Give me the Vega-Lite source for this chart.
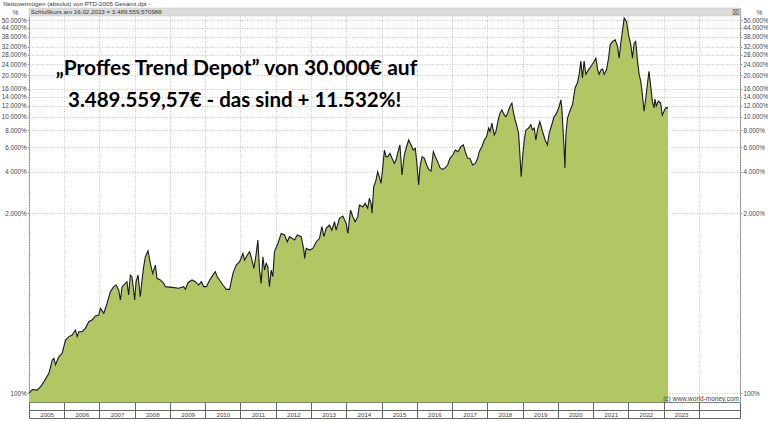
{
  "$schema": "https://vega.github.io/schema/vega-lite/v6.json",
  "width": 711,
  "height": 394,
  "autosize": {"type": "none"},
  "padding": {"left": 29, "top": 8, "right": 28, "bottom": 19},
  "background": "white",
  "config": {
    "view": {"stroke": "#808080", "strokeWidth": 1},
    "font": "Liberation Sans",
    "axis": {
      "labelFont": "Liberation Sans",
      "titleFont": "Liberation Sans",
      "labelFontSize": 6.3,
      "labelColor": "#444444",
      "labelFlush": false,
      "labelOverlap": false,
      "labelBound": false
    }
  },
  "resolve": {"axis": {"x": "independent", "y": "independent"}},
  "layer": [
    {
      "data": {"values": [{}]},
      "mark": {"type": "rect", "color": "#dcdcdc", "stroke": "#c4c4c4", "strokeWidth": 0.5},
      "encoding": {
        "x": {"datum": {"year": 2005, "month": 1, "date": 1, "utc": true}, "type": "temporal",
          "scale": {"type": "utc", "domain": [{"year": 2005, "month": 1, "date": 1, "utc": true}, {"year": 2025, "month": 3, "date": 3, "utc": true}]},
          "axis": {"orient": "bottom", "offset": 16, "ticks": false, "labels": false, "grid": false, "domain": true, "domainColor": "#666666", "title": null}},
        "x2": {"datum": {"year": 2025, "month": 3, "date": 3, "utc": true}},
        "y": {"datum": 61254, "type": "quantitative", "scale": {"type": "log", "domain": [86.1, 61254], "nice": false}, "axis": null},
        "y2": {"datum": 53600}
      }
    },
    {
      "data": {"values": [
        {"date": "2005-01-01", "v": 100}, {"date": "2005-02-04", "v": 106}, {"date": "2005-03-26", "v": 105}, {"date": "2005-05-01", "v": 111},
        {"date": "2005-06-05", "v": 121}, {"date": "2005-07-26", "v": 139}, {"date": "2005-08-30", "v": 173}, {"date": "2005-09-16", "v": 178},
        {"date": "2005-10-03", "v": 160}, {"date": "2005-11-06", "v": 183}, {"date": "2005-12-10", "v": 194}, {"date": "2006-01-15", "v": 242},
        {"date": "2006-02-18", "v": 256}, {"date": "2006-03-24", "v": 263}, {"date": "2006-04-27", "v": 286}, {"date": "2006-05-15", "v": 256},
        {"date": "2006-06-01", "v": 278}, {"date": "2006-07-05", "v": 278}, {"date": "2006-08-08", "v": 294}, {"date": "2006-09-12", "v": 328},
        {"date": "2006-10-16", "v": 338}, {"date": "2006-11-20", "v": 361}, {"date": "2006-12-24", "v": 367}, {"date": "2007-01-11", "v": 410},
        {"date": "2007-02-15", "v": 378}, {"date": "2007-03-20", "v": 446}, {"date": "2007-04-24", "v": 541}, {"date": "2007-05-28", "v": 589},
        {"date": "2007-06-22", "v": 605}, {"date": "2007-07-19", "v": 557}, {"date": "2007-08-06", "v": 471}, {"date": "2007-08-23", "v": 589},
        {"date": "2007-09-26", "v": 622}, {"date": "2007-10-13", "v": 640}, {"date": "2007-10-30", "v": 512}, {"date": "2007-11-17", "v": 714},
        {"date": "2007-12-04", "v": 695}, {"date": "2008-01-01", "v": 471}, {"date": "2008-01-15", "v": 640}, {"date": "2008-02-05", "v": 714},
        {"date": "2008-02-28", "v": 498}, {"date": "2008-03-17", "v": 658}, {"date": "2008-04-03", "v": 821}, {"date": "2008-04-20", "v": 968},
        {"date": "2008-05-18", "v": 1070}, {"date": "2008-06-11", "v": 868}, {"date": "2008-07-05", "v": 735}, {"date": "2008-08-02", "v": 844},
        {"date": "2008-08-19", "v": 676}, {"date": "2008-09-23", "v": 658}, {"date": "2008-10-27", "v": 622}, {"date": "2008-11-13", "v": 589},
        {"date": "2009-01-22", "v": 582}, {"date": "2009-04-01", "v": 573}, {"date": "2009-05-23", "v": 589}, {"date": "2009-06-09", "v": 563},
        {"date": "2009-07-06", "v": 629}, {"date": "2009-08-17", "v": 658}, {"date": "2009-09-20", "v": 640}, {"date": "2009-10-25", "v": 605},
        {"date": "2009-11-22", "v": 640}, {"date": "2009-12-16", "v": 589}, {"date": "2010-01-13", "v": 589}, {"date": "2010-02-16", "v": 658},
        {"date": "2010-03-21", "v": 714}, {"date": "2010-04-15", "v": 756}, {"date": "2010-05-05", "v": 695}, {"date": "2010-05-29", "v": 658},
        {"date": "2010-07-03", "v": 605}, {"date": "2010-08-07", "v": 563}, {"date": "2010-09-10", "v": 563}, {"date": "2010-09-27", "v": 640},
        {"date": "2010-10-15", "v": 735}, {"date": "2010-11-18", "v": 844}, {"date": "2010-12-23", "v": 892}, {"date": "2011-01-26", "v": 1025},
        {"date": "2011-02-12", "v": 915}, {"date": "2011-03-12", "v": 997}, {"date": "2011-04-05", "v": 1053}, {"date": "2011-04-22", "v": 968},
        {"date": "2011-05-20", "v": 798}, {"date": "2011-06-13", "v": 1025}, {"date": "2011-06-30", "v": 1282}, {"date": "2011-07-17", "v": 777},
        {"date": "2011-08-03", "v": 622}, {"date": "2011-08-21", "v": 968}, {"date": "2011-09-07", "v": 777}, {"date": "2011-09-24", "v": 868},
        {"date": "2011-10-11", "v": 821}, {"date": "2011-10-28", "v": 589}, {"date": "2011-11-15", "v": 777}, {"date": "2011-12-02", "v": 695},
        {"date": "2011-12-19", "v": 1053}, {"date": "2012-01-23", "v": 1210}, {"date": "2012-02-27", "v": 1430}, {"date": "2012-04-02", "v": 1393},
        {"date": "2012-04-29", "v": 1245}, {"date": "2012-05-23", "v": 1355}, {"date": "2012-06-17", "v": 1318}, {"date": "2012-07-14", "v": 1282},
        {"date": "2012-08-11", "v": 1393}, {"date": "2012-09-21", "v": 1355}, {"date": "2012-10-19", "v": 1083}, {"date": "2012-10-26", "v": 941},
        {"date": "2012-11-12", "v": 1114}, {"date": "2012-12-17", "v": 1083}, {"date": "2013-01-20", "v": 1114}, {"date": "2013-02-24", "v": 1245},
        {"date": "2013-03-30", "v": 1318}, {"date": "2013-04-23", "v": 1599}, {"date": "2013-05-14", "v": 1355}, {"date": "2013-06-07", "v": 1555},
        {"date": "2013-07-11", "v": 1644}, {"date": "2013-08-04", "v": 1510}, {"date": "2013-09-01", "v": 1738}, {"date": "2013-09-18", "v": 1510},
        {"date": "2013-10-22", "v": 1838}, {"date": "2013-11-26", "v": 1910}, {"date": "2013-12-31", "v": 1690}, {"date": "2014-01-17", "v": 1430},
        {"date": "2014-02-14", "v": 2110}, {"date": "2014-03-10", "v": 1890}, {"date": "2014-04-03", "v": 1738}, {"date": "2014-04-30", "v": 1890},
        {"date": "2014-05-17", "v": 2290}, {"date": "2014-06-21", "v": 2230}, {"date": "2014-07-15", "v": 2360}, {"date": "2014-08-11", "v": 2180},
        {"date": "2014-08-28", "v": 2570}, {"date": "2014-09-15", "v": 2360}, {"date": "2014-09-25", "v": 2000}, {"date": "2014-10-12", "v": 3110},
        {"date": "2014-11-05", "v": 3480}, {"date": "2014-11-22", "v": 4000}, {"date": "2014-12-09", "v": 3680}, {"date": "2014-12-27", "v": 3290},
        {"date": "2015-01-13", "v": 4230}, {"date": "2015-01-31", "v": 5740}, {"date": "2015-02-17", "v": 5140}, {"date": "2015-03-06", "v": 5140},
        {"date": "2015-03-30", "v": 5430}, {"date": "2015-04-20", "v": 5000}, {"date": "2015-05-14", "v": 4590}, {"date": "2015-05-31", "v": 4860},
        {"date": "2015-06-17", "v": 5430}, {"date": "2015-07-11", "v": 6260}, {"date": "2015-08-01", "v": 3790}, {"date": "2015-08-25", "v": 5280},
        {"date": "2015-09-18", "v": 6090}, {"date": "2015-10-09", "v": 6790}, {"date": "2015-11-02", "v": 6260}, {"date": "2015-11-26", "v": 5740},
        {"date": "2015-12-17", "v": 5900}, {"date": "2016-01-01", "v": 4730}, {"date": "2016-01-21", "v": 3210}, {"date": "2016-02-04", "v": 4350},
        {"date": "2016-02-25", "v": 5140}, {"date": "2016-03-20", "v": 5000}, {"date": "2016-04-13", "v": 4470}, {"date": "2016-05-04", "v": 4160},
        {"date": "2016-05-28", "v": 4050}, {"date": "2016-06-21", "v": 5580}, {"date": "2016-07-12", "v": 5140}, {"date": "2016-08-05", "v": 4730},
        {"date": "2016-08-29", "v": 4280}, {"date": "2016-09-26", "v": 4160}, {"date": "2016-10-23", "v": 4280}, {"date": "2016-11-16", "v": 4470},
        {"date": "2016-12-10", "v": 5000}, {"date": "2017-01-08", "v": 5280}, {"date": "2017-02-04", "v": 5740}, {"date": "2017-03-04", "v": 5580},
        {"date": "2017-04-04", "v": 6090}, {"date": "2017-04-28", "v": 6260}, {"date": "2017-05-18", "v": 5580}, {"date": "2017-06-11", "v": 5000},
        {"date": "2017-07-05", "v": 5000}, {"date": "2017-08-02", "v": 4470}, {"date": "2017-08-30", "v": 4590}, {"date": "2017-09-23", "v": 5000},
        {"date": "2017-10-10", "v": 5580}, {"date": "2017-11-07", "v": 6090}, {"date": "2017-12-01", "v": 6790}, {"date": "2017-12-25", "v": 7190},
        {"date": "2018-01-15", "v": 8270}, {"date": "2018-01-29", "v": 7820}, {"date": "2018-02-18", "v": 8990}, {"date": "2018-03-14", "v": 7370},
        {"date": "2018-03-31", "v": 7820}, {"date": "2018-04-17", "v": 8990}, {"date": "2018-05-11", "v": 10570}, {"date": "2018-06-01", "v": 11220},
        {"date": "2018-06-25", "v": 10350}, {"date": "2018-07-12", "v": 10000}, {"date": "2018-07-30", "v": 10570}, {"date": "2018-08-23", "v": 11870},
        {"date": "2018-09-13", "v": 12570}, {"date": "2018-09-27", "v": 10900}, {"date": "2018-10-17", "v": 9460}, {"date": "2018-10-31", "v": 8750},
        {"date": "2018-11-21", "v": 7580}, {"date": "2018-12-04", "v": 5430}, {"date": "2018-12-18", "v": 3680}, {"date": "2019-01-02", "v": 5140},
        {"date": "2019-01-19", "v": 6790}, {"date": "2019-02-05", "v": 8020}, {"date": "2019-03-04", "v": 8270}, {"date": "2019-03-28", "v": 8750},
        {"date": "2019-04-14", "v": 8020}, {"date": "2019-05-02", "v": 8270}, {"date": "2019-05-19", "v": 6790}, {"date": "2019-06-05", "v": 8020},
        {"date": "2019-06-29", "v": 9230}, {"date": "2019-07-27", "v": 7820}, {"date": "2019-08-23", "v": 6790}, {"date": "2019-09-16", "v": 6260},
        {"date": "2019-10-04", "v": 7580}, {"date": "2019-10-31", "v": 8750}, {"date": "2019-11-24", "v": 10000}, {"date": "2019-12-19", "v": 10570},
        {"date": "2020-01-16", "v": 11870}, {"date": "2020-02-02", "v": 13270}, {"date": "2020-02-12", "v": 11600}, {"date": "2020-02-26", "v": 7850},
        {"date": "2020-03-08", "v": 5610}, {"date": "2020-03-15", "v": 4250}, {"date": "2020-03-25", "v": 7410}, {"date": "2020-04-11", "v": 9790},
        {"date": "2020-05-05", "v": 10970}, {"date": "2020-06-02", "v": 12270}, {"date": "2020-06-29", "v": 16240}, {"date": "2020-07-23", "v": 17630},
        {"date": "2020-08-10", "v": 20260}, {"date": "2020-08-27", "v": 25290}, {"date": "2020-09-13", "v": 19060}, {"date": "2020-09-30", "v": 25290},
        {"date": "2020-10-18", "v": 20260}, {"date": "2020-11-14", "v": 21860}, {"date": "2020-12-08", "v": 23090}, {"date": "2021-01-02", "v": 24470},
        {"date": "2021-01-30", "v": 26510}, {"date": "2021-02-16", "v": 22140}, {"date": "2021-03-05", "v": 20260}, {"date": "2021-03-23", "v": 21860},
        {"date": "2021-04-09", "v": 22140}, {"date": "2021-04-26", "v": 20260}, {"date": "2021-05-20", "v": 21860}, {"date": "2021-06-10", "v": 26510},
        {"date": "2021-06-27", "v": 33160}, {"date": "2021-07-21", "v": 35060}, {"date": "2021-08-18", "v": 36060}, {"date": "2021-09-11", "v": 32380},
        {"date": "2021-09-28", "v": 26510}, {"date": "2021-10-15", "v": 34060}, {"date": "2021-11-01", "v": 41640}, {"date": "2021-11-19", "v": 51800},
        {"date": "2021-12-13", "v": 48900}, {"date": "2022-01-03", "v": 39280}, {"date": "2022-01-27", "v": 33160}, {"date": "2022-02-13", "v": 26510},
        {"date": "2022-03-02", "v": 34060}, {"date": "2022-03-19", "v": 35060}, {"date": "2022-04-06", "v": 25290}, {"date": "2022-04-23", "v": 20260},
        {"date": "2022-05-10", "v": 18040}, {"date": "2022-05-27", "v": 14440}, {"date": "2022-06-13", "v": 10970}, {"date": "2022-06-30", "v": 13430},
        {"date": "2022-07-21", "v": 18040}, {"date": "2022-08-03", "v": 21300}, {"date": "2022-08-20", "v": 16850}, {"date": "2022-09-06", "v": 12970},
        {"date": "2022-09-24", "v": 11600}, {"date": "2022-10-04", "v": 13430}, {"date": "2022-10-18", "v": 11940}, {"date": "2022-11-07", "v": 12970},
        {"date": "2022-12-01", "v": 12610}, {"date": "2022-12-19", "v": 10300}, {"date": "2023-01-06", "v": 10970}, {"date": "2023-01-23", "v": 11600},
        {"date": "2023-02-16", "v": 11632}
      ]},
      "mark": {"type": "area", "color": "#b1c764", "opacity": 1, "line": {"color": "#1a1a1a", "strokeWidth": 1.1}},
      "encoding": {
        "x": {"field": "date", "type": "temporal",
          "scale": {"type": "utc", "domain": [{"year": 2005, "month": 1, "date": 1, "utc": true}, {"year": 2025, "month": 3, "date": 3, "utc": true}]},
          "axis": {
            "orient": "bottom",
            "title": null,
            "values": [
              {"year": 2005, "month": 1, "date": 1, "utc": true}, {"year": 2006, "month": 1, "date": 1, "utc": true},
              {"year": 2007, "month": 1, "date": 1, "utc": true}, {"year": 2008, "month": 1, "date": 1, "utc": true},
              {"year": 2009, "month": 1, "date": 1, "utc": true}, {"year": 2010, "month": 1, "date": 1, "utc": true},
              {"year": 2011, "month": 1, "date": 1, "utc": true}, {"year": 2012, "month": 1, "date": 1, "utc": true},
              {"year": 2013, "month": 1, "date": 1, "utc": true}, {"year": 2014, "month": 1, "date": 1, "utc": true},
              {"year": 2015, "month": 1, "date": 1, "utc": true}, {"year": 2016, "month": 1, "date": 1, "utc": true},
              {"year": 2017, "month": 1, "date": 1, "utc": true}, {"year": 2018, "month": 1, "date": 1, "utc": true},
              {"year": 2019, "month": 1, "date": 1, "utc": true}, {"year": 2020, "month": 1, "date": 1, "utc": true},
              {"year": 2021, "month": 1, "date": 1, "utc": true}, {"year": 2022, "month": 1, "date": 1, "utc": true},
              {"year": 2023, "month": 1, "date": 1, "utc": true}, {"year": 2024, "month": 1, "date": 1, "utc": true},
              {"year": 2025, "month": 3, "date": 3, "utc": true}
            ],
            "labelExpr": "utcyear(datum.value) <= 2023 && utcmonth(datum.value) == 0 ? utcFormat(datum.value, '%Y') : ''",
            "labelOffset": 17.6,
            "labelAlign": "center",
            "labelBaseline": "middle",
            "labelPadding": -3.5,
            "labelFontSize": 6.2,
            "tickSize": 16,
            "tickColor": "#666666",
            "domain": true,
            "domainColor": "#808080",
            "grid": true,
            "gridColor": "#c4c4c4",
            "gridDash": [1, 1.5]
          }},
        "y": {"field": "v", "type": "quantitative", "stack": null,
          "scale": {"type": "log", "domain": [86.1, 61254], "nice": false},
          "axis": {
            "orient": "left",
            "values": [100, 2000, 4000, 6000, 8000, 10000, 12000, 14000, 16000, 20000, 24000, 28000, 32000, 38000, 44000, 50000],
            "labelExpr": "replace(format(datum.value, ',.0f'), ',', '.') + '%'",
            "tickSize": 2,
            "tickColor": "#a0a0a0",
            "labelPadding": 1,
            "domain": false,
            "grid": true,
            "gridColor": "#c4c4c4",
            "gridDash": [1, 1.5],
            "title": "%",
            "titleAngle": 0,
            "titleX": -14,
            "titleY": 4,
            "titleAlign": "center",
            "titleBaseline": "middle",
            "titleFontSize": 6.5,
            "titleFontWeight": "normal",
            "titleColor": "#444444"
          }}
      }
    },
    {
      "data": {"values": [{}]},
      "mark": {"type": "text", "text": "„Proffes Trend Depot” von 30.000€ auf", "font": "Lato", "fontWeight": "bold", "fontSize": 21, "color": "#000000", "align": "center", "baseline": "alphabetic"},
      "encoding": {
        "x": {"datum": {"year": 2010, "month": 11, "date": 20, "utc": true}, "type": "temporal",
          "scale": {"type": "utc", "domain": [{"year": 2005, "month": 1, "date": 1, "utc": true}, {"year": 2025, "month": 3, "date": 3, "utc": true}]},
          "axis": {"orient": "bottom", "offset": 8, "ticks": false, "labels": false, "grid": false, "domain": true, "domainColor": "#666666", "title": null}},
        "y": {"datum": 20045, "type": "quantitative", "scale": {"type": "log", "domain": [86.1, 61254], "nice": false},
          "axis": {
            "orient": "right",
            "values": [100, 2000, 4000, 6000, 8000, 10000, 12000, 14000, 16000, 20000, 24000, 28000, 32000, 38000, 44000, 50000],
            "labelExpr": "replace(format(datum.value, ',.0f'), ',', '.') + '%'",
            "tickSize": 2,
            "tickColor": "#a0a0a0",
            "labelPadding": 1,
            "domain": false,
            "grid": false,
            "title": "%",
            "titleAngle": 0,
            "titleX": 19,
            "titleY": 4,
            "titleAlign": "center",
            "titleBaseline": "middle",
            "titleFontSize": 6.5,
            "titleFontWeight": "normal",
            "titleColor": "#444444"
          }}
      }
    },
    {
      "data": {"values": [{}]},
      "mark": {"type": "text", "text": "3.489.559,57€ - das sind + 11.532%!", "font": "Lato", "fontWeight": "bold", "fontSize": 20.5, "color": "#000000", "align": "center", "baseline": "alphabetic"},
      "encoding": {
        "x": {"datum": {"year": 2010, "month": 11, "date": 2, "utc": true}, "type": "temporal",
          "scale": {"type": "utc", "domain": [{"year": 2005, "month": 1, "date": 1, "utc": true}, {"year": 2025, "month": 3, "date": 3, "utc": true}]}, "axis": null},
        "y": {"datum": 11753, "type": "quantitative", "scale": {"type": "log", "domain": [86.1, 61254], "nice": false}, "axis": null}
      }
    },
    {
      "data": {"values": [{}]},
      "mark": {"type": "text", "text": "Nettovermögen (absolut) von PTD-2005 Gesamt.dpt -", "fontSize": 6.2, "color": "#333333", "align": "left", "baseline": "middle", "clip": false},
      "encoding": {
        "x": {"datum": {"year": 2004, "month": 4, "date": 8, "utc": true}, "type": "temporal",
          "scale": {"type": "utc", "domain": [{"year": 2005, "month": 1, "date": 1, "utc": true}, {"year": 2025, "month": 3, "date": 3, "utc": true}]}, "axis": null},
        "y": {"datum": 65460, "type": "quantitative", "scale": {"type": "log", "domain": [86.1, 61254], "nice": false}, "axis": null}
      }
    },
    {
      "data": {"values": [{}]},
      "mark": {"type": "text", "text": "Schlußkurs am 16.02.2023 = 3.489.559,570988", "fontSize": 6.2, "color": "#333333", "align": "left", "baseline": "middle"},
      "encoding": {
        "x": {"datum": {"year": 2005, "month": 1, "date": 20, "utc": true}, "type": "temporal",
          "scale": {"type": "utc", "domain": [{"year": 2005, "month": 1, "date": 1, "utc": true}, {"year": 2025, "month": 3, "date": 3, "utc": true}]}, "axis": null},
        "y": {"datum": 57270, "type": "quantitative", "scale": {"type": "log", "domain": [86.1, 61254], "nice": false}, "axis": null}
      }
    },
    {
      "data": {"values": [{}]},
      "mark": {"type": "text", "text": "⊠", "font": "DejaVu Sans", "fontSize": 9, "color": "#777777", "align": "center", "baseline": "middle"},
      "encoding": {
        "x": {"datum": {"year": 2025, "month": 1, "date": 15, "utc": true}, "type": "temporal",
          "scale": {"type": "utc", "domain": [{"year": 2005, "month": 1, "date": 1, "utc": true}, {"year": 2025, "month": 3, "date": 3, "utc": true}]}, "axis": null},
        "y": {"datum": 57270, "type": "quantitative", "scale": {"type": "log", "domain": [86.1, 61254], "nice": false}, "axis": null}
      }
    },
    {
      "data": {"values": [{}]},
      "mark": {"type": "text", "text": "(c) www.world-money.com", "fontSize": 6.5, "color": "#444444", "align": "right", "baseline": "middle"},
      "encoding": {
        "x": {"datum": {"year": 2025, "month": 2, "date": 20, "utc": true}, "type": "temporal",
          "scale": {"type": "utc", "domain": [{"year": 2005, "month": 1, "date": 1, "utc": true}, {"year": 2025, "month": 3, "date": 3, "utc": true}]}, "axis": null},
        "y": {"datum": 90.5, "type": "quantitative", "scale": {"type": "log", "domain": [86.1, 61254], "nice": false}, "axis": null}
      }
    }
  ]
}
